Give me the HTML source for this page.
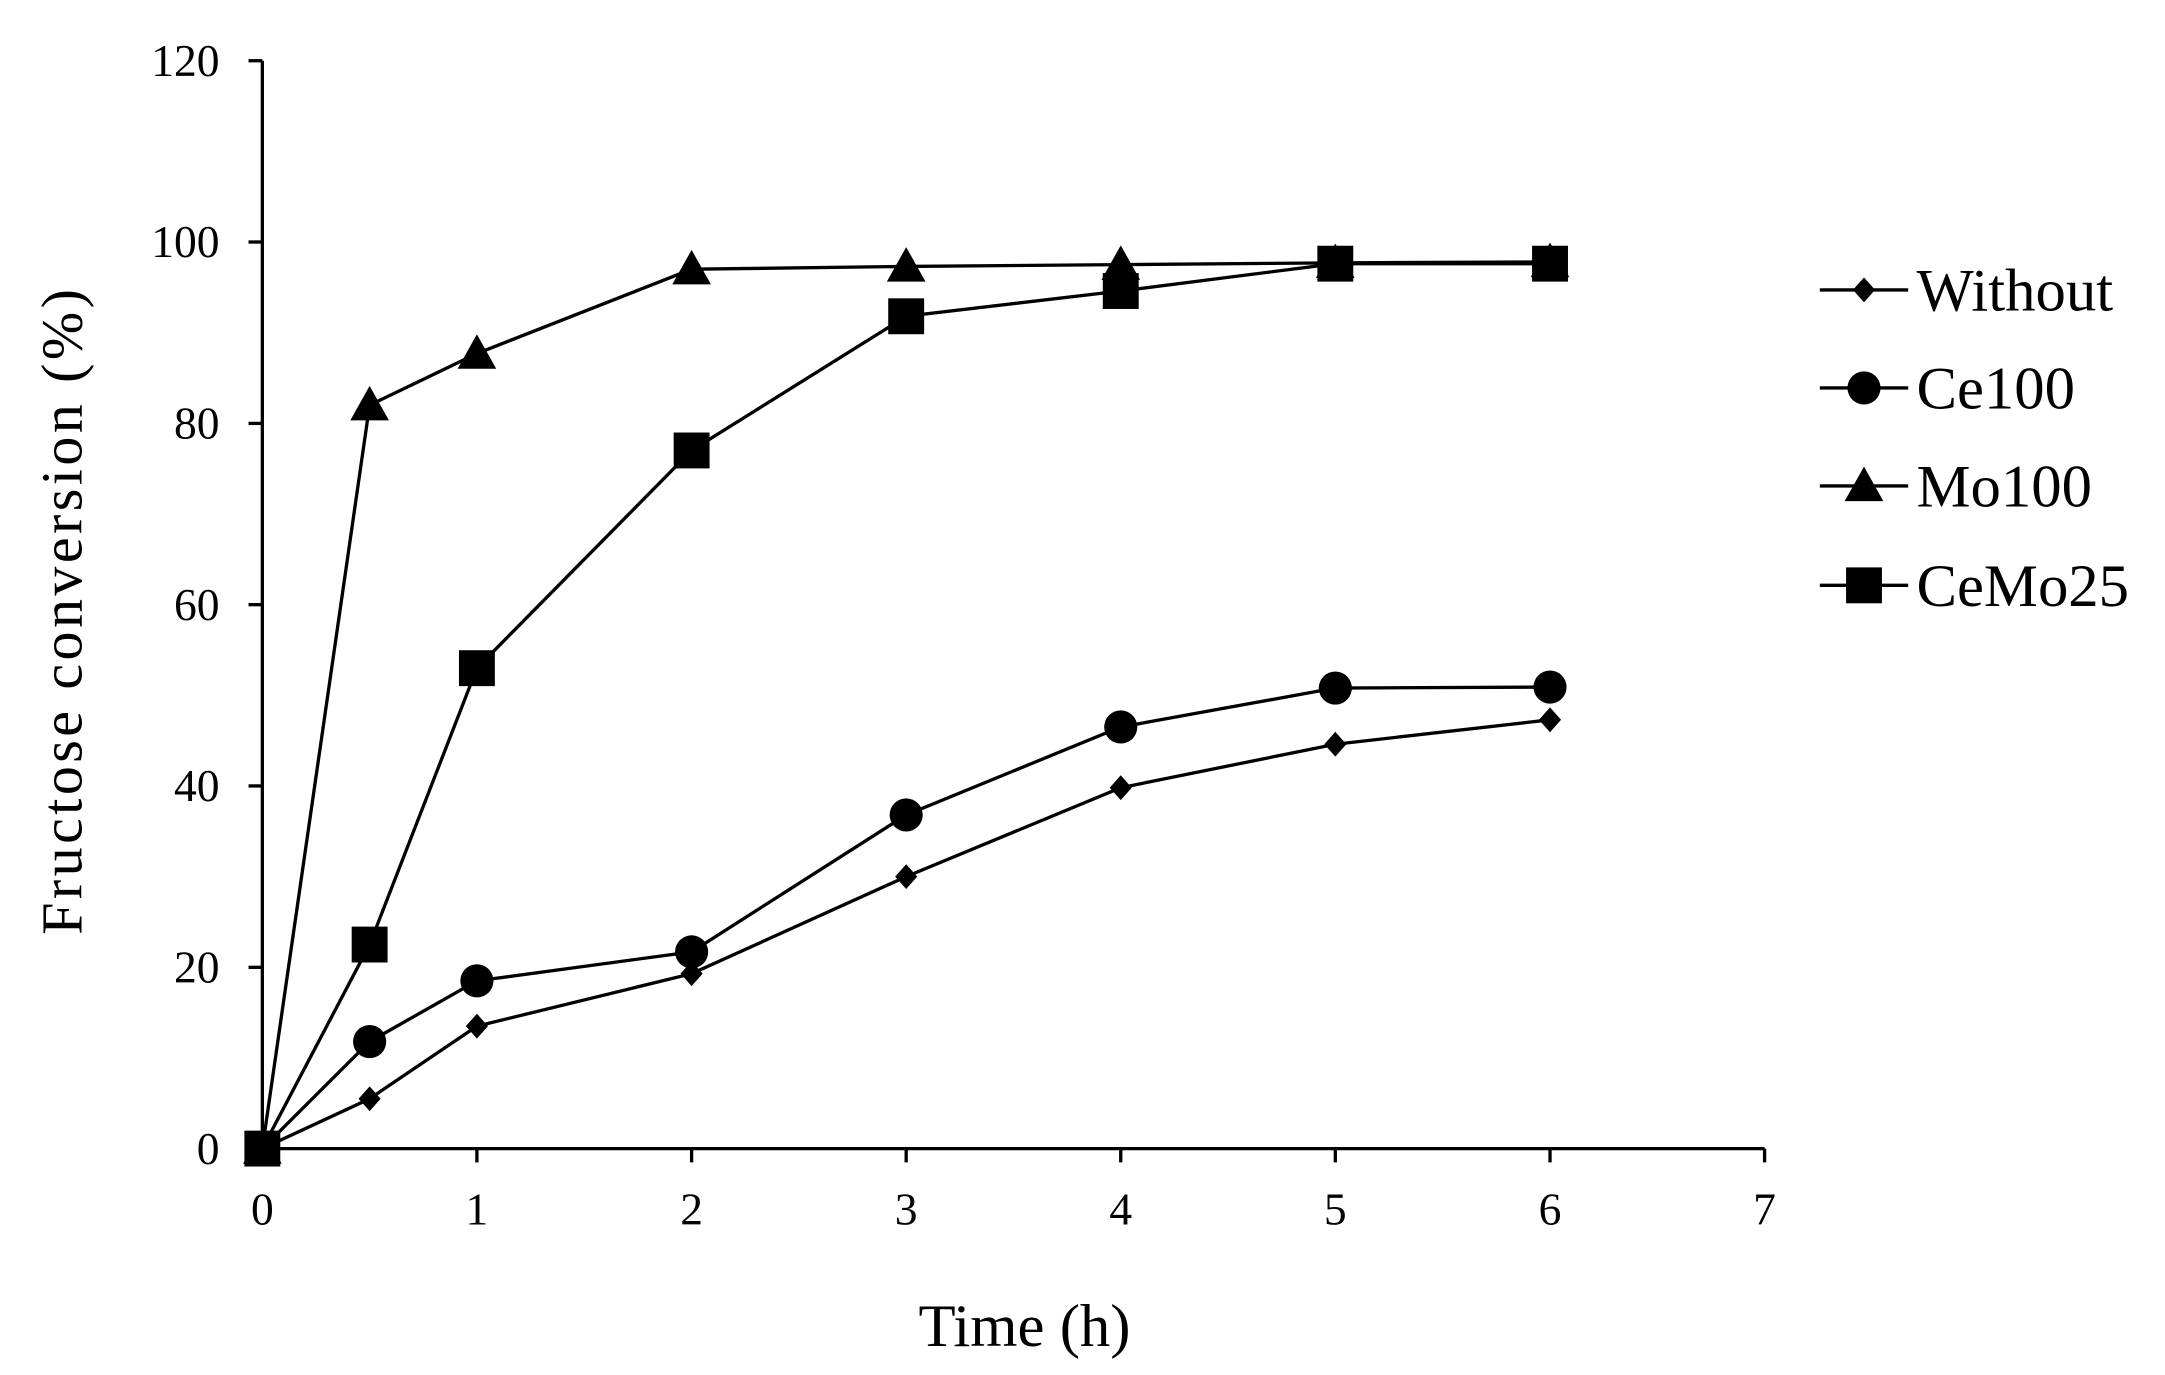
<!DOCTYPE html>
<html><head><meta charset="utf-8"><style>html,body{margin:0;padding:0;background:#fff}svg{display:block}</style></head>
<body>
<svg width="2165" height="1375" viewBox="0 0 1568 996" preserveAspectRatio="none" xmlns="http://www.w3.org/2000/svg" font-family="Liberation Serif, serif" fill="#000">
<rect width="1568" height="996" fill="#fff"/>
<g stroke="#000" stroke-width="2.4" fill="none">
<line x1="190" y1="44" x2="190" y2="832"/>
<line x1="190" y1="832" x2="1278" y2="832"/>
<line x1="180" y1="832" x2="190" y2="832"/><line x1="180" y1="700.7" x2="190" y2="700.7"/><line x1="180" y1="569.3" x2="190" y2="569.3"/><line x1="180" y1="438" x2="190" y2="438"/><line x1="180" y1="306.7" x2="190" y2="306.7"/><line x1="180" y1="175.3" x2="190" y2="175.3"/><line x1="180" y1="44" x2="190" y2="44"/>
<line x1="190" y1="832" x2="190" y2="842"/><line x1="345.4" y1="832" x2="345.4" y2="842"/><line x1="500.9" y1="832" x2="500.9" y2="842"/><line x1="656.3" y1="832" x2="656.3" y2="842"/><line x1="811.7" y1="832" x2="811.7" y2="842"/><line x1="967.1" y1="832" x2="967.1" y2="842"/><line x1="1122.6" y1="832" x2="1122.6" y2="842"/><line x1="1278" y1="832" x2="1278" y2="842"/>
<polyline points="190,832 267.7,795.9 345.4,743.3 500.9,705.3 656.3,635 811.7,570.6 967.1,539.1 1122.6,521.4"/>
<polyline points="190,832 267.7,754.5 345.4,710.5 500.9,689.5 656.3,590.3 811.7,526.6 967.1,498.4 1122.6,497.7"/>
<polyline points="190,832 267.7,293.5 345.4,256.1 500.9,195 656.3,193 811.7,191.7 967.1,190.4 1122.6,189.7"/>
<polyline points="190,832 267.7,684.2 345.4,484 500.9,326.3 656.3,229.1 811.7,210.8 967.1,191 1122.6,191"/>
<line x1="1318" y1="210" x2="1382" y2="210"/><line x1="1318" y1="281" x2="1382" y2="281"/><line x1="1318" y1="352" x2="1382" y2="352"/><line x1="1318" y1="424" x2="1382" y2="424"/>
</g>
<defs>
<path id="d" d="M0,-9 L8,0 L0,9 L-8,0Z"/>
<circle id="c" r="12"/>
<path id="t" d="M0,-14 L14,11 L-14,11Z"/>
<rect id="s" x="-13" y="-13" width="26" height="26"/>
</defs>
<g>
<use href="#d" x="190" y="832"/><use href="#d" x="267.7" y="795.9"/><use href="#d" x="345.4" y="743.3"/><use href="#d" x="500.9" y="705.3"/><use href="#d" x="656.3" y="635"/><use href="#d" x="811.7" y="570.6"/><use href="#d" x="967.1" y="539.1"/><use href="#d" x="1122.6" y="521.4"/>
<use href="#c" x="190" y="832"/><use href="#c" x="267.7" y="754.5"/><use href="#c" x="345.4" y="710.5"/><use href="#c" x="500.9" y="689.5"/><use href="#c" x="656.3" y="590.3"/><use href="#c" x="811.7" y="526.6"/><use href="#c" x="967.1" y="498.4"/><use href="#c" x="1122.6" y="497.7"/>
<use href="#t" x="190" y="832"/><use href="#t" x="267.7" y="293.5"/><use href="#t" x="345.4" y="256.1"/><use href="#t" x="500.9" y="195"/><use href="#t" x="656.3" y="193"/><use href="#t" x="811.7" y="191.7"/><use href="#t" x="967.1" y="190.4"/><use href="#t" x="1122.6" y="189.7"/>
<use href="#s" x="190" y="832"/><use href="#s" x="267.7" y="684.2"/><use href="#s" x="345.4" y="484"/><use href="#s" x="500.9" y="326.3"/><use href="#s" x="656.3" y="229.1"/><use href="#s" x="811.7" y="210.8"/><use href="#s" x="967.1" y="191"/><use href="#s" x="1122.6" y="191"/>
<use href="#d" x="1350" y="210"/><use href="#c" x="1350" y="281"/><use href="#t" x="1350" y="352"/><use href="#s" x="1350" y="424"/>
</g>
<g font-size="33" text-anchor="end">
<text x="159" y="843">0</text><text x="159" y="711.7">20</text><text x="159" y="580.3">40</text><text x="159" y="449">60</text><text x="159" y="317.7">80</text><text x="159" y="186.3">100</text><text x="159" y="55">120</text>
</g>
<g font-size="33" text-anchor="middle">
<text x="190" y="887">0</text><text x="345.4" y="887">1</text><text x="500.9" y="887">2</text><text x="656.3" y="887">3</text><text x="811.7" y="887">4</text><text x="967.1" y="887">5</text><text x="1122.6" y="887">6</text><text x="1278" y="887">7</text>
</g>
<text x="742" y="975" font-size="44" text-anchor="middle">Time (h)</text>
<text transform="translate(59,442) rotate(-90)" font-size="42" text-anchor="middle" letter-spacing="2.5">Fructose conversion (%)</text>
<g font-size="44">
<text x="1388" y="225">Without</text><text x="1388" y="296">Ce100</text><text x="1388" y="367">Mo100</text><text x="1388" y="439">CeMo25</text>
</g>
</svg>
</body></html>
